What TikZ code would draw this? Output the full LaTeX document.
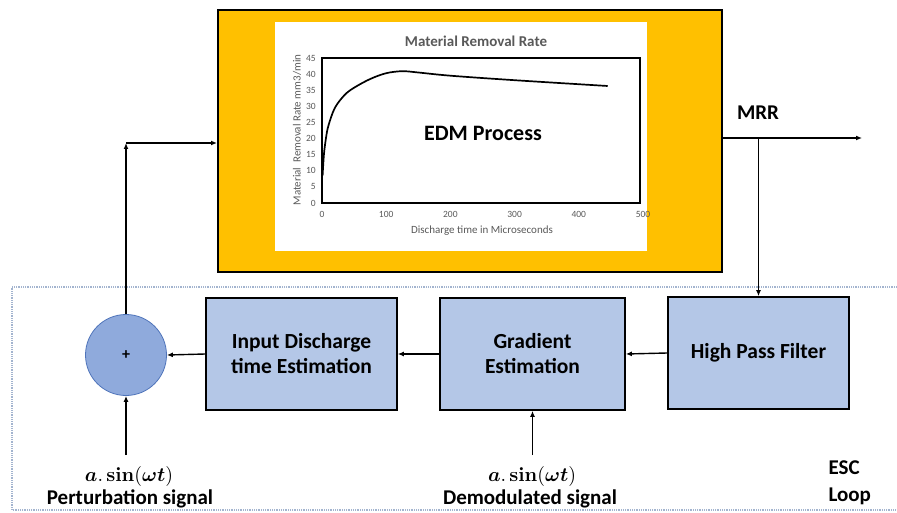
\documentclass[tikz,border=0pt]{standalone}
\usepackage{amsmath}
\usepackage{graphicx}
\usepackage[no-math]{fontspec}
\setmainfont{Carlito}
\usetikzlibrary{arrows.meta}
\definecolor{edmorange}{HTML}{FFC000}
\definecolor{boxblue}{HTML}{B4C7E7}
\definecolor{sumblue}{HTML}{8FAADC}
\definecolor{sumedge}{HTML}{4F74BA}
\definecolor{plotgray}{HTML}{595959}
\definecolor{escblue}{HTML}{A3B4CF}
\newcommand{\asinwt}{\resizebox*{88pt}{20pt}{$\boldsymbol{a}.\,\mathbf{sin}(\boldsymbol{\omega t})$}}
\begin{document}
\begin{tikzpicture}[x=1pt,y=-1pt,
  blk/.style={draw=black, line width=1.6pt, fill=boxblue, align=center, minimum height=112pt, inner sep=2pt,
    font=\fontsize{21.5}{25}\selectfont\bfseries},
  arr/.style={-{Latex[length=6pt,width=5pt]}, line width=1.4pt},
  lbl/.style={font=\fontsize{21}{27}\selectfont\bfseries},
  mathlbl/.style={inner sep=1pt},
  tick/.style={font=\fontsize{9.5}{10}\selectfont, text=plotgray, inner sep=0pt},
  axlbl/.style={font=\fontsize{11}{12}\selectfont, text=plotgray, inner sep=0pt}]
\useasboundingbox (0,0) rectangle (897,513);
% ESC loop boundary (open on the right)
\draw[escblue, line width=1.2pt, dash pattern=on 1pt off 0.8pt] (897,287) -- (12,287) -- (12,510) -- (897,510);
% EDM process block
\node[draw=black, line width=2pt, fill=edmorange, minimum width=504pt, minimum height=262pt, inner sep=0pt] (edm) at (470,141) {};
\fill[white] (275,22) rectangle (647,251);
\node[font=\fontsize{15}{16}\selectfont\bfseries, text=plotgray] (ptitle) at (476,41) {Material Removal Rate};
\draw[line width=1.7pt] (322,58) rectangle (640,203);
\foreach \v in {0,5,...,45} \node[tick, anchor=east] at (316,{203-3.222*\v}) {\v};
\foreach \v in {0,100,...,500} \node[tick] at ({322+0.642*\v},214) {\v};
\node[axlbl, rotate=90] (ylab) at (297,130) {Material\ \ Removal Rate mm3/min};
\node[axlbl] (xlab) at (482,231) {Discharge time in Microseconds};
\draw[line width=1.7pt] plot[smooth, tension=0.55] coordinates {(322.6,175.6) (323.9,154.7) (325.9,138.6) (328.4,125.7) (334.8,108) (344.5,95.1) (354.1,87.7) (370.2,79) (386.2,73.2) (402.3,71.2) (418.3,72.5) (450.4,75.7) (514.6,80.2) (607.7,86)};
\node[font=\fontsize{22}{26}\selectfont\bfseries] (edmlabel) at (483,133) {EDM Process};
% MRR output
\node[lbl] (mrr) at (758,113) {MRR};
\coordinate (out) at (862,138);
\coordinate (br) at (758.5,138);
\draw[arr] (edm.east |- out) -- (out);
% ESC blocks
\node[blk, minimum width=181pt] (hpf) at (758.5,353) {High Pass Filter};
\node[blk, minimum width=185pt] (grad) at (532.5,354) {Gradient\\Estimation};
\node[blk, minimum width=191pt] (inp) at (301.5,354) {Input Discharge\\time Estimation};
\node[circle, draw=sumedge, line width=0.8pt, fill=sumblue, minimum size=81pt, inner sep=0pt, font=\fontsize{16}{16}\selectfont\bfseries] (sum) at (126,355) {+};
\draw[arr] (br) -- (hpf.north);
\draw[arr] (hpf.west) -- (grad.east);
\draw[arr] (grad.west) -- (inp.east);
\draw[arr] (inp.west) -- (sum.east);
\coordinate (corner) at (126,143);
\draw[arr] (sum.north) -- (corner);
\draw[arr] (corner) -- (edm.west |- corner);
% inputs
\coordinate (pin) at (126,455);
\coordinate (din) at (532.5,455);
\draw[arr] (pin) -- (sum.south);
\draw[arr] (din) -- (grad.south);
\node[mathlbl] (pmath) at (129,476) {\asinwt};
\node[lbl] (ptxt) at (130,499) {Perturbation signal};
\node[mathlbl] (dmath) at (532,476) {\asinwt};
\node[lbl] (dtxt) at (530,499) {Demodulated signal};
\node[lbl, align=left, anchor=west] (esc) at (825,483) {ESC\\Loop};
\end{tikzpicture}
\end{document}
